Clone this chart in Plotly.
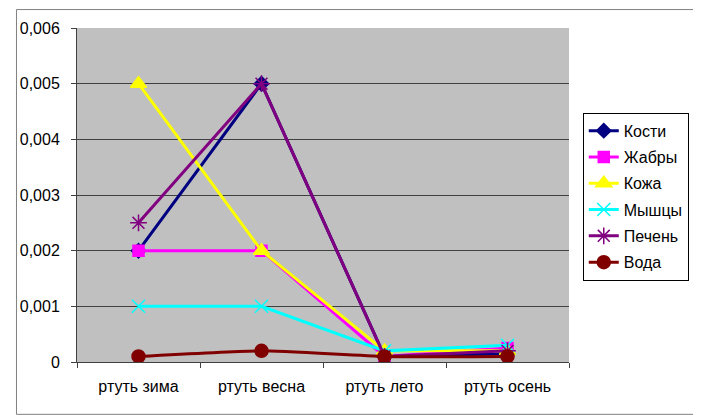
import plotly.graph_objects as go

categories = ["ртуть зима", "ртуть весна", "ртуть лето", "ртуть осень"]
kosti = [0.002, 0.005, 0.0001, 0.00015]
zhabry = [0.002, 0.002, 0.0001, 0.00025]
kozha = [0.005, 0.002, 0.0002, 0.0002]
myshtsy = [0.001, 0.001, 0.0002, 0.0003]
pechen = [0.0025, 0.005, 0.0001, 0.0002]
voda = [0.0001, 0.0002, 0.0001, 0.0001]
y_ticks = [0, 0.001, 0.002, 0.003, 0.004, 0.005, 0.006]
y_tick_labels = ["0", "0,001", "0,002", "0,003", "0,004", "0,005", "0,006"]

series = [
    ("Кости", kosti, "#000080", "diamond", 11, "linear"),
    ("Жабры", zhabry, "#FF00FF", "square", 11, "linear"),
    ("Кожа", kozha, "#FFFF00", "triangle-up", 14, "linear"),
    ("Мышцы", myshtsy, "#00FFFF", "x-thin-open", 13, "linear"),
    ("Печень", pechen, "#800080", "asterisk-open", 14, "linear"),
    ("Вода", voda, "#800000", "circle", 13, "spline"),
]

fig = go.Figure()
for name, vals, color, sym, size, shape in series:
    fig.add_trace(go.Scatter(
        x=categories, y=vals, name=name, mode="lines+markers", legendgroup=name,
        line=dict(color=color, width=3, shape=shape, smoothing=0.5),
        marker=dict(color=color, symbol=sym, size=size,
                    line=dict(color=color, width=1.5)),
    ))

# page body has an 8px margin; work in page pixels and shift
OFF = 8
L, T, W, H = 70 - OFF, 27 - OFF, 500, 335
FW, FH = 701 - OFF, 415 - OFF
fig.update_layout(
    width=FW, height=FH,
    margin=dict(l=L, r=FW - L - W, t=T, b=FH - T - H, pad=0),
    paper_bgcolor="white", plot_bgcolor="#C0C0C0",
    font=dict(family="Liberation Sans, Arial, sans-serif", size=16, color="black"),
    showlegend=True,
    legend=dict(x=(584 - 70) / W, y=(27 + H - 112) / H, xanchor="left", yanchor="top",
                bgcolor="white", bordercolor="black", borderwidth=1,
                font=dict(size=16), tracegroupgap=2.5, itemwidth=30),
    xaxis=dict(type="category", range=[-0.5, 3.5], showgrid=False,
               ticks="outside", tickson="boundaries", ticklen=5, tickcolor="#404040",
               ticklabelstandoff=10,
               showline=True, linecolor="#404040", linewidth=1, zeroline=False),
    yaxis=dict(range=[0, 0.006], tickvals=y_ticks, ticktext=y_tick_labels,
               showgrid=True, gridcolor="#404040", gridwidth=1,
               ticks="outside", ticklen=5, tickcolor="#404040",
               ticklabelstandoff=8,
               showline=True, linecolor="#404040", linewidth=1, zeroline=False),
    shapes=[dict(type="rect", xref="paper", yref="paper",
                 x0=(0.5 - L) / W, x1=(FW - 0.5 - L) / W,
                 y0=(T + H - FH + 0.5) / H, y1=(T + H - 0.5) / H,
                 line=dict(color="#808080", width=1), fillcolor="rgba(0,0,0,0)",
                 layer="below")],
)

fig.write_html("out.html")
